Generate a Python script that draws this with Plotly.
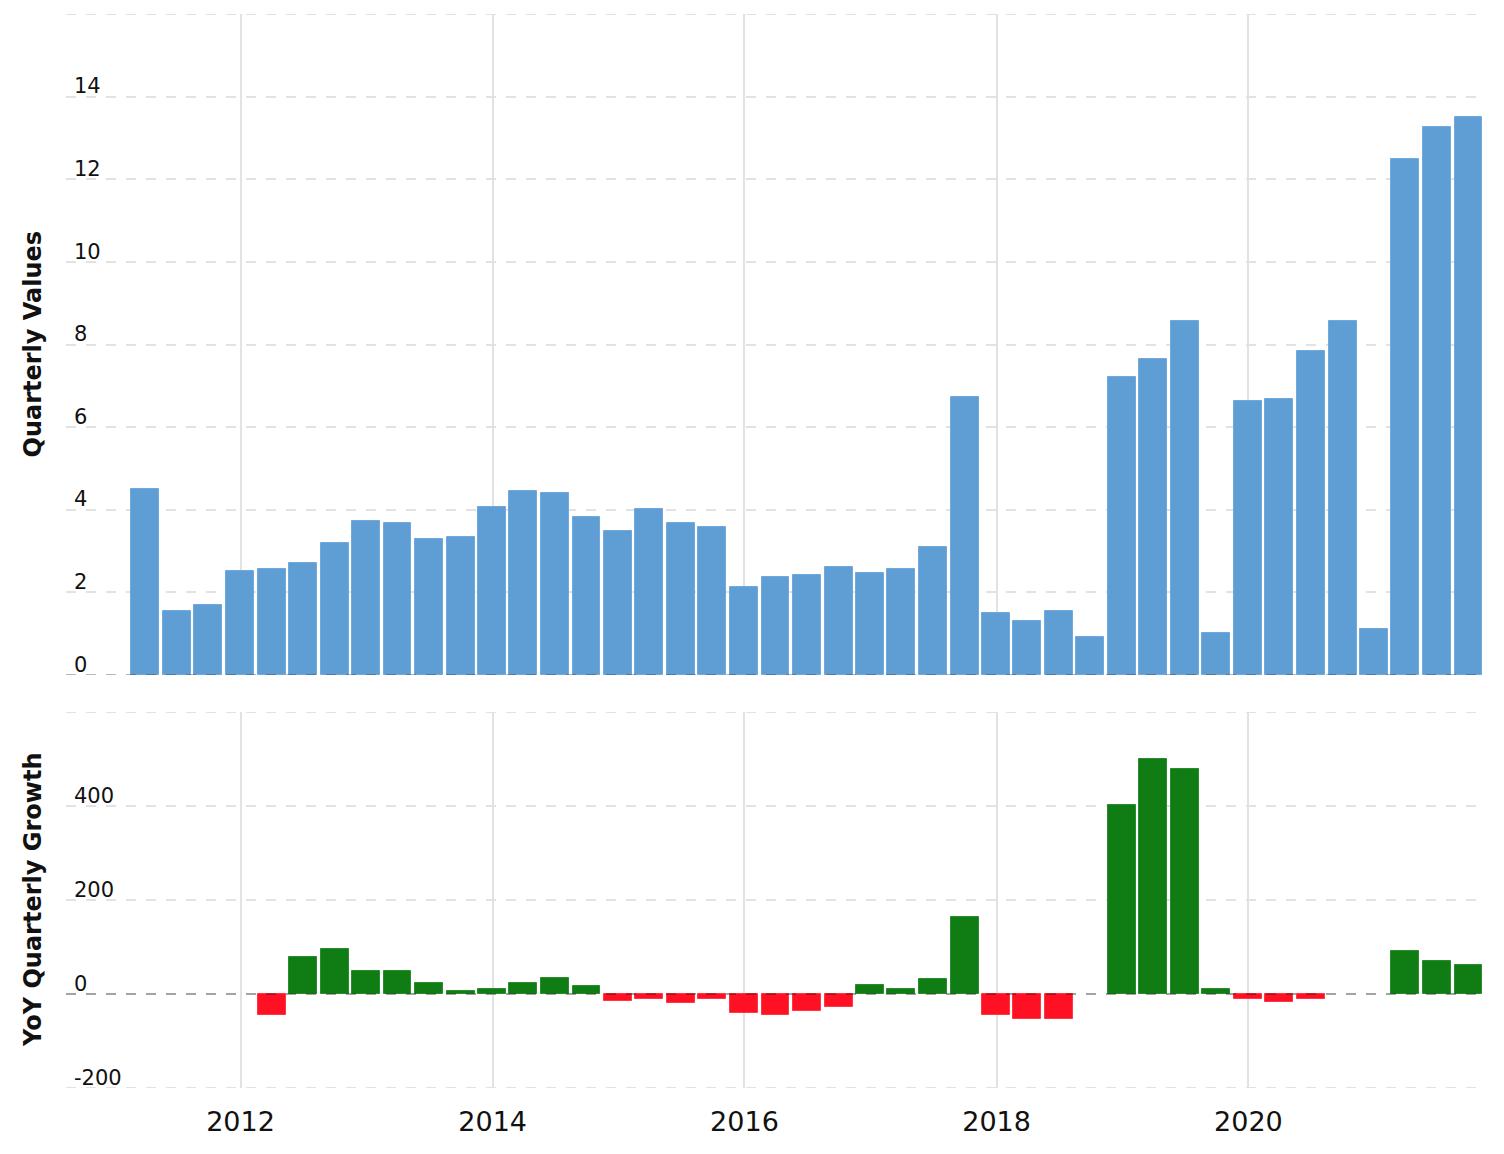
import plotly.graph_objects as go

# ---- data ----
quarters = [
    "2011-03-31", "2011-06-30", "2011-09-30", "2011-12-31",
    "2012-03-31", "2012-06-30", "2012-09-30", "2012-12-31",
    "2013-03-31", "2013-06-30", "2013-09-30", "2013-12-31",
    "2014-03-31", "2014-06-30", "2014-09-30", "2014-12-31",
    "2015-03-31", "2015-06-30", "2015-09-30", "2015-12-31",
    "2016-03-31", "2016-06-30", "2016-09-30", "2016-12-31",
    "2017-03-31", "2017-06-30", "2017-09-30", "2017-12-31",
    "2018-03-31", "2018-06-30", "2018-09-30", "2018-12-31",
    "2019-03-31", "2019-06-30", "2019-09-30", "2019-12-31",
    "2020-03-31", "2020-06-30", "2020-09-30", "2020-12-31",
    "2021-03-31", "2021-06-30", "2021-09-30",
]

quarterly_values = [
    4.50, 1.55, 1.69, 2.52,
    2.57, 2.71, 3.20, 3.73,
    3.68, 3.29, 3.34, 4.07,
    4.46, 4.41, 3.83, 3.49,
    4.02, 3.68, 3.58, 2.13,
    2.37, 2.42, 2.61, 2.47,
    2.57, 3.10, 6.73, 1.50,
    1.31, 1.55, 0.92, 7.22,
    7.65, 8.57, 1.02, 6.63,
    6.68, 7.84, 8.57, 1.11,
    12.49, 13.27, 13.51,
]

yoy_growth = [
    None, None, None, None,
    -44, 78, 95, 48,
    48, 23, 6, 10,
    23, 35, 18, -15,
    -11, -20, -11, -41,
    -45, -37, -28, 19,
    10, 31, 163, -44,
    -53, -53, None, 402,
    500, 479, 10, -11,
    -16, -11, None, None,
    91, 70, 61,
]

values_range = [0, 16]
values_ticks = [0, 2, 4, 6, 8, 10, 12, 14, 16]
values_ticktext = ["0", "2", "4", "6", "8", "10", "12", "14", ""]
growth_range = [-200, 600]
growth_ticks = [-200, 0, 200, 400, 600]
growth_ticktext = ["-200", "0", "200", "400", ""]

# ---- styling ----
BLUE = "#5f9dd5"
BLUE_EDGE = "#72a9dd"
GREEN = "#0f7d13"
GREEN_EDGE = "#2a8c2d"
RED = "#ff1022"
RED_EDGE = "#ff3645"
GRID = "#e2e2e2"
DASH = "10px,10px"
BAR_W = 81 * 86400000  # ms

growth_colors = [GREEN if (g is not None and g >= 0) else RED for g in yoy_growth]
growth_edges = [GREEN_EDGE if (g is not None and g >= 0) else RED_EDGE for g in yoy_growth]

fig = go.Figure()
fig.add_trace(go.Bar(
    x=quarters, y=quarterly_values, xaxis="x", yaxis="y",
    width=[BAR_W] * len(quarters),
    marker=dict(color=BLUE, line=dict(color=BLUE_EDGE, width=1)),
    name="Quarterly Values", showlegend=False,
))
fig.add_trace(go.Bar(
    x=quarters, y=yoy_growth, xaxis="x2", yaxis="y2",
    width=[BAR_W] * len(quarters),
    marker=dict(color=growth_colors, line=dict(color=growth_edges, width=1)),
    name="YoY Quarterly Growth", showlegend=False,
))

xrange = ["2010-08-13", "2021-11-14"]
tickfont_y = dict(family="DejaVu Sans", size=21, color="#111111")


def hline(xref, yref, yval, color, layer):
    return dict(type="line", xref=xref, yref=yref, x0=0, x1=1, y0=yval, y1=yval,
                line=dict(color=color, width=2, dash=DASH), layer=layer)


shapes = [
    # grid lines at the range ends (plotly drops these)
    hline("x domain", "y", values_range[1], GRID, "below"),
    hline("x2 domain", "y2", growth_range[1], GRID, "below"),
    hline("x2 domain", "y2", growth_range[0], GRID, "below"),
    # darker zero lines drawn over the bars
    hline("x domain", "y", 0, "rgba(0,0,0,0.28)", "above"),
    hline("x2 domain", "y2", 0, "rgba(0,0,0,0.28)", "above"),
]

fig.update_layout(
    width=1504, height=1154,
    margin=dict(l=66, r=20, t=14, b=66),
    paper_bgcolor="white", plot_bgcolor="white",
    bargap=0,
    xaxis=dict(
        domain=[0, 1], anchor="y", type="date", range=xrange,
        tick0="2012-01-01", dtick="M24", showticklabels=False,
        showgrid=True, gridcolor=GRID, gridwidth=2,
        zeroline=False, showline=False, ticks="",
    ),
    xaxis2=dict(
        domain=[0, 1], anchor="y2", type="date", range=xrange, matches="x",
        tick0="2012-01-01", dtick="M24", tickformat="%Y",
        showticklabels=True, tickfont=dict(family="DejaVu Sans", size=27, color="#111111"),
        ticklabelstandoff=15,
        showgrid=True, gridcolor=GRID, gridwidth=2,
        zeroline=False, showline=False, ticks="",
    ),
    yaxis=dict(
        domain=[0.3845, 1], anchor="x", range=values_range,
        tickmode="array", tickvals=values_ticks, ticktext=values_ticktext,
        ticklabelposition="inside top", ticklabelstandoff=5, ticklabelshift=4,
        ticklabeloverflow="allow",
        tickfont=tickfont_y,
        showgrid=True, gridcolor=GRID, gridwidth=2, griddash=DASH,
        zeroline=False, showline=False, ticks="",
    ),
    yaxis2=dict(
        domain=[0, 0.3501], anchor="x2", range=growth_range,
        tickmode="array", tickvals=growth_ticks, ticktext=growth_ticktext,
        ticklabelposition="inside top", ticklabelstandoff=5, ticklabelshift=4,
        ticklabeloverflow="allow",
        tickfont=tickfont_y,
        showgrid=True, gridcolor=GRID, gridwidth=2, griddash=DASH,
        zeroline=False, showline=False, ticks="",
    ),
    shapes=shapes,
    annotations=[
        dict(text="Quarterly Values", xref="paper", yref="paper",
             x=-33 / 1418, y=(0.3845 + 1) / 2, xanchor="center", yanchor="middle",
             textangle=-90, showarrow=False,
             font=dict(family="DejaVu Sans", size=24, color="#111111", weight="bold")),
        dict(text="YoY Quarterly Growth", xref="paper", yref="paper",
             x=-33 / 1418, y=0.3501 / 2, xanchor="center", yanchor="middle",
             textangle=-90, showarrow=False,
             font=dict(family="DejaVu Sans", size=24, color="#111111", weight="bold")),
    ],
)

fig.write_html("out.html")
